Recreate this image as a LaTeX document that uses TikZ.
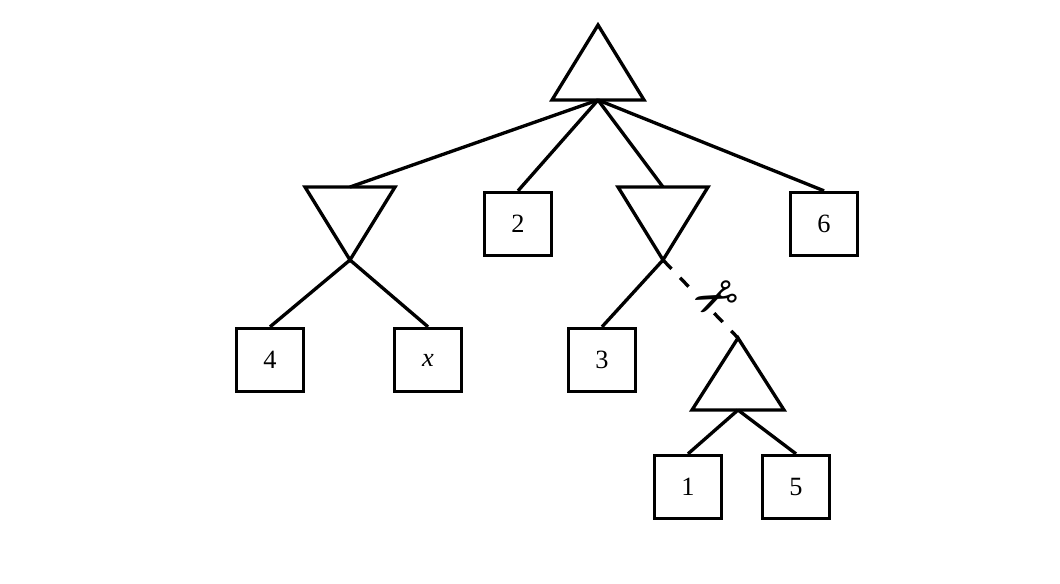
\documentclass[tikz,border=0pt]{standalone}
\usepackage{fontspec}
\setmainfont{Liberation Serif}
\newfontfamily\symf{DejaVu Sans}
\begin{document}
\begin{tikzpicture}[x=0.02cm,y=-0.02cm,line width=1.9pt,
  leaf/.style={draw,minimum width=1.34cm,minimum height=1.26cm,inner sep=0pt,font=\fontsize{15}{15}\selectfont},
  tri/.style={draw,line join=miter}]
\useasboundingbox (0,0) rectangle (1060,584);
% root
\draw[tri] (598,25) -- (552,100) -- (644,100) -- cycle;
\coordinate (r) at (598,100);
% left min triangle
\draw[tri] (305,187) -- (395,187) -- (350,260) -- cycle;
\coordinate (lt) at (350,187); \coordinate (lb) at (350,260);
% middle min triangle
\draw[tri] (618,187) -- (708,187) -- (663,260) -- cycle;
\coordinate (mt) at (663,187); \coordinate (mb) at (663,260);
% small max triangle
\draw[tri] (738,338) -- (692,410) -- (784,410) -- cycle;
\coordinate (st) at (738,338); \coordinate (sb) at (738,410);
\node[leaf] (n2) at (518,224) {2};
\node[leaf] (n6) at (824,224) {6};
\node[leaf] (n4) at (270,360) {4};
\node[leaf] (nx) at (428,360) {\textit{x}};
\node[leaf] (n3) at (602,360) {3};
\node[leaf] (n1) at (688,487) {1};
\node[leaf] (n5) at (796,487) {5};
\draw (r) -- (lt); \draw (r) -- (n2.north); \draw (r) -- (mt); \draw (r) -- (n6.north);
\draw (lb) -- (n4.north); \draw (lb) -- (nx.north);
\draw (mb) -- (n3.north);
\draw[dashed,dash pattern=on 7pt off 7pt] (mb) -- (st);
\draw (sb) -- (n1.north); \draw (sb) -- (n5.north);
\node[rotate=205,inner sep=0pt,fill=white,font=\symf\fontsize{30}{30}\selectfont] (sc) at (714,295) {✂};
\end{tikzpicture}
\end{document}
